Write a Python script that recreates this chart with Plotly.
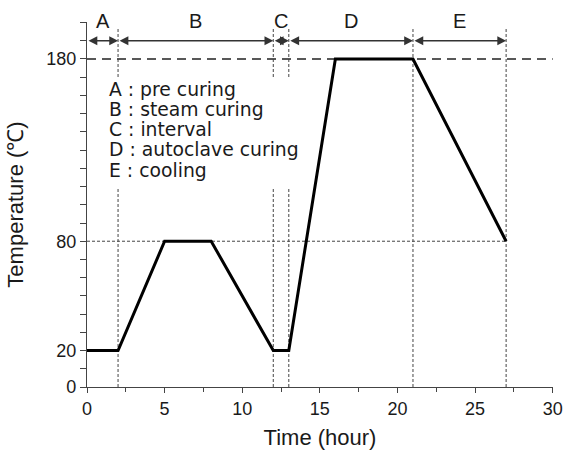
import plotly.graph_objects as go

# Data
time_h = [0, 2, 5, 8, 12, 13, 16, 21, 27]
temp_c = [20, 20, 80, 80, 20, 20, 180, 180, 80]
phase_bounds = [0, 2, 12, 13, 21, 27]
phase_labels = ["A", "B", "C", "D", "E"]
phase_desc = ["pre curing", "steam curing", "interval", "autoclave curing", "cooling"]
ytick_vals = [0, 20, 80, 180]
xtick_vals = [0, 5, 10, 15, 20, 25, 30]

FONT = "Liberation Sans, Arial, sans-serif"
LFONT = "DejaVu Sans, sans-serif"
TXT = "#1a1a1a"

fig = go.Figure()

# reference lines
fig.add_trace(go.Scatter(x=[0, 30], y=[180, 180], mode="lines",
                         line=dict(color="#222", width=1.6, dash="9px,6px"),
                         hoverinfo="skip", showlegend=False))
fig.add_trace(go.Scatter(x=[0, time_h[-1]], y=[temp_c[-1], temp_c[-1]], mode="lines",
                         line=dict(color="#444", width=1, dash="3px,2px"),
                         hoverinfo="skip", showlegend=False))
for b in phase_bounds[1:]:
    fig.add_trace(go.Scatter(x=[b, b], y=[0, 197], mode="lines",
                             line=dict(color="#444", width=1, dash="3px,2px"),
                             hoverinfo="skip", showlegend=False))

# main curve
fig.add_trace(go.Scatter(x=time_h, y=temp_c, mode="lines",
                         line=dict(color="black", width=3),
                         hoverinfo="skip", showlegend=False))

shapes = [
    # white backing behind the legend text block
    dict(type="rect", xref="x", yref="y", x0=0.85, x1=14.3, y0=109, y1=170,
         fillcolor="white", line=dict(width=0), layer="above"),
]

annotations = []
# phase arrows and labels
for i, lab in enumerate(phase_labels):
    x0, x1 = phase_bounds[i], phase_bounds[i + 1]
    annotations.append(dict(x=x1, y=190, ax=x0, ay=190, xref="x", yref="y",
                            axref="x", ayref="y", text="", showarrow=True,
                            arrowhead=2, startarrowhead=2, arrowside="end+start",
                            arrowsize=1.1, startarrowsize=1.1, arrowwidth=1.6,
                            arrowcolor="#333", standoff=0, startstandoff=0))
    annotations.append(dict(x=(x0 + x1) / 2, y=1.004, xref="x", yref="paper",
                            yanchor="middle", text=lab, showarrow=False,
                            font=dict(family=FONT, size=20, color=TXT)))

# legend text lines
for k, (l, d) in enumerate(zip(phase_labels, phase_desc)):
    annotations.append(dict(x=1.3, y=163.4 - 11.1 * k, xref="x", yref="y",
                            xanchor="left", yanchor="middle",
                            text=f"{l} : {d}", showarrow=False, align="left",
                            font=dict(family=LFONT, size=18.8, color=TXT)))

fig.update_layout(
    width=568, height=454,
    margin=dict(l=87, r=15, t=22, b=67),
    paper_bgcolor="white", plot_bgcolor="white",
    font=dict(family=FONT, size=18, color=TXT),
    annotations=annotations, shapes=shapes,
    showlegend=False,
)
fig.update_xaxes(range=[0, 30.02], tickvals=xtick_vals, ticks="outside", ticklen=5,
                 tickcolor="#444", tickwidth=1.2, showline=True, linecolor="#444",
                 linewidth=1.4, showgrid=False, zeroline=False, automargin=False,
                 minor=dict(dtick=2.5, tick0=0, ticks="outside", ticklen=4,
                            tickcolor="#444", showgrid=False),
                 title=dict(text="Time (hour)", font=dict(size=22), standoff=11),
                 tickfont=dict(size=18))
fig.update_yaxes(range=[0, 200.3], tickvals=ytick_vals, ticks="outside", ticklen=6,
                 tickcolor="#444", tickwidth=1.2, showline=True, linecolor="#444",
                 linewidth=1.4, showgrid=False, zeroline=False, automargin=False,
                 minor=dict(dtick=10, tick0=0, ticks="outside", ticklen=6,
                            tickcolor="#444", showgrid=False),
                 title=dict(text="Temperature (℃)", font=dict(size=22), standoff=16),
                 tickfont=dict(size=18))

fig.write_html("out.html")
